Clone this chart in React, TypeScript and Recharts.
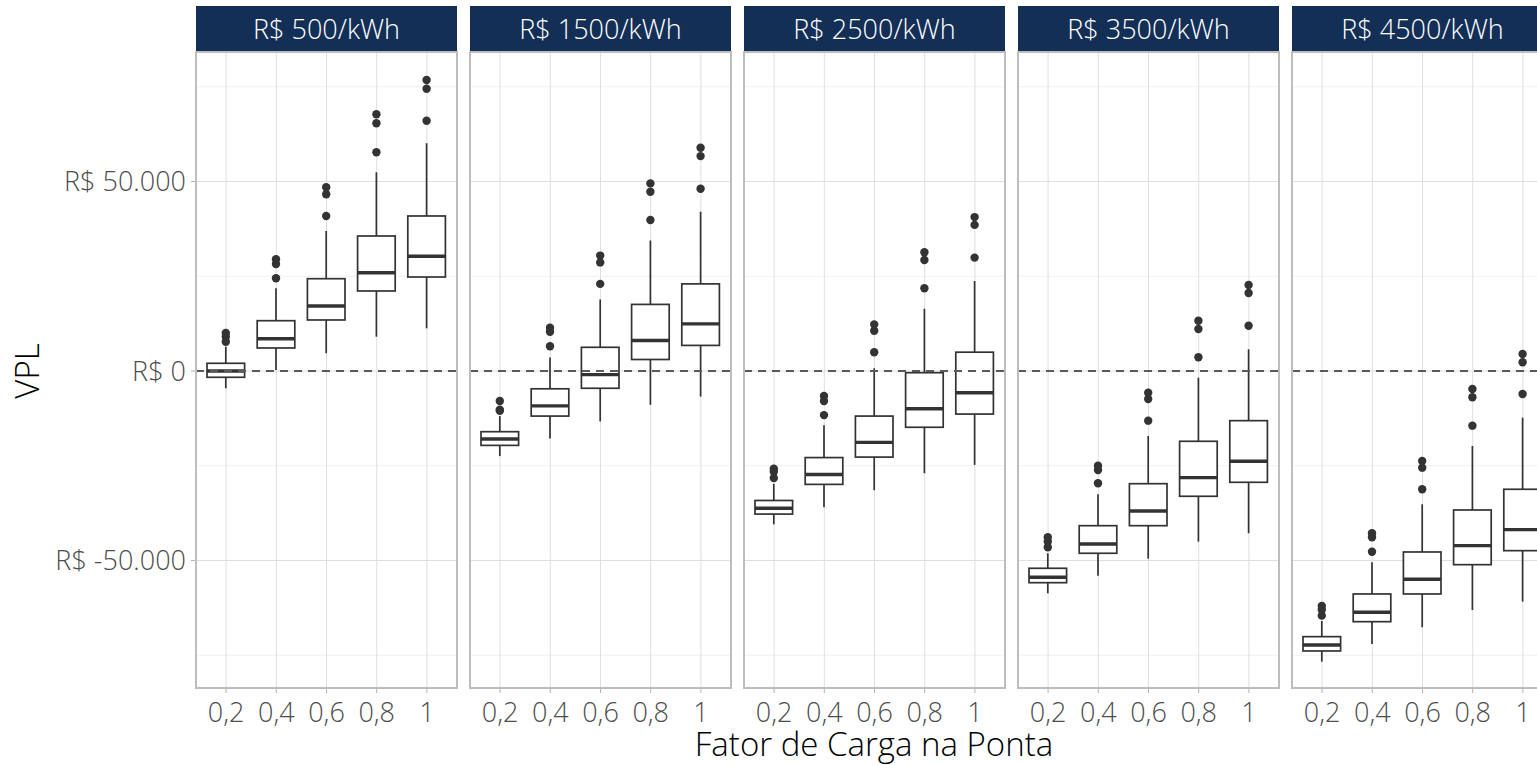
import React from 'react';
import { ComposedChart, Bar, XAxis, YAxis, CartesianGrid, ReferenceLine } from 'recharts';

// categorias e facetas
const factors = ['0,2', '0,4', '0,6', '0,8', '1'];
const costs = ['R$ 500/kWh', 'R$ 1500/kWh', 'R$ 2500/kWh', 'R$ 3500/kWh', 'R$ 4500/kWh'];

// estatísticas dos boxplots, uma linha por faceta (custo), uma coluna por fator
const whiskerLow = [
  [-4560, 260, 4670, 9050, 11260],
  [-22450, -17810, -13320, -8940, -6750],
  [-40470, -35960, -31450, -26970, -24780],
  [-58650, -54010, -49520, -45040, -42820],
  [-76700, -72030, -67630, -63060, -60870],
];
const q1 = [
  [-1660, 6070, 13460, 21110, 24800],
  [-19630, -11900, -4560, 3030, 6750],
  [-37760, -29920, -22720, -14850, -11370],
  [-55860, -48100, -40820, -33060, -29370],
  [-73880, -66150, -58840, -51110, -47410],
];
const median = [
  [0, 8520, 17150, 25940, 30260],
  [-17940, -9210, -950, 8050, 12430],
  [-36230, -27330, -18840, -9970, -5730],
  [-54430, -45650, -36940, -28150, -23830],
  [-72290, -63670, -54960, -46090, -41870],
];
const q3 = [
  [2030, 13270, 24350, 35620, 40900],
  [-16020, -4700, 6250, 17570, 22980],
  [-34170, -22850, -11900, -450, 4960],
  [-52060, -40820, -29740, -18550, -13110],
  [-70100, -58840, -47760, -36680, -31210],
];
const whiskerHigh = [
  [6410, 21820, 36940, 52420, 60070],
  [-11900, 3540, 18870, 34430, 42030],
  [-29790, -14350, 710, 16410, 23750],
  [-48100, -32530, -17150, -1770, 5730],
  [-65960, -50470, -35170, -19790, -12320],
];
const outliers = [
  [[7730, 9050, 10030], [24460, 28230, 29470], [40900, 46620, 48470], [57700, 65350, 67730], [66040, 74490, 76780]],
  [[-10500, -10240, -7920], [6520, 10370, 11400], [22980, 28650, 30450], [39840, 47310, 49500], [48070, 56700, 58890]],
  [[-28230, -26600, -25800], [-11640, -7920, -6620], [4960, 10630, 12300], [21820, 29290, 31350], [29920, 38550, 40610]],
  [[-46520, -45000, -43880], [-29630, -26120, -24990], [-13110, -7390, -5730], [3610, 11080, 13270], [11950, 20580, 22690]],
  [[-64560, -63000, -62000], [-47680, -43880, -42820], [-31210, -25510, -23750], [-14430, -6940, -4750], [-6070, 2300, 4490]],
];

const yTicks = [-50000, 0, 50000];
const yMinor = [-75000, -25000, 25000, 75000];

const PANEL_W = 261;
const PANEL_H = 636;
const GAP = 13;
const LEFT = 196;
const TOP = 52;
const STRIP_H = 46;
const FONT = '"Open Sans", "DejaVu Sans", sans-serif';
const INK = '#333333';

const fmt = (v: number) =>
  'R$ ' + (v < 0 ? '-' : '') + Math.abs(v).toString().replace(/\B(?=(\d{3})+(?!\d))/g, '.');

function BoxShape(props: any) {
  const { x, y, width, height, payload } = props;
  const top = Math.min(y, y + height);
  const bottom = Math.max(y, y + height);
  const { lo, hi } = payload;
  // mapeia valor -> pixel a partir da escala usada pela barra
  const py = (v: number) => bottom - ((v - lo) / (hi - lo)) * (bottom - top);
  const cx = x + width / 2;
  const yq1 = py(payload.q1);
  const yq3 = py(payload.q3);
  return (
    <g>
      <line x1={cx} x2={cx} y1={py(hi)} y2={yq3} stroke={INK} strokeWidth={1.7} />
      <line x1={cx} x2={cx} y1={yq1} y2={py(lo)} stroke={INK} strokeWidth={1.7} />
      <rect x={x} y={yq3} width={width} height={yq1 - yq3} fill="#fff" stroke={INK} strokeWidth={1.7} />
      <line x1={x} x2={x + width} y1={py(payload.med)} y2={py(payload.med)} stroke={INK} strokeWidth={3.4} />
      {payload.out.map((o: number, k: number) => (
        <circle key={k} cx={cx} cy={py(o)} r={4.2} fill={INK} />
      ))}
    </g>
  );
}

function Panel({ idx }: { idx: number }) {
  const data = factors.map((f, j) => ({
    f,
    lo: whiskerLow[idx][j],
    q1: q1[idx][j],
    med: median[idx][j],
    q3: q3[idx][j],
    hi: whiskerHigh[idx][j],
    out: outliers[idx][j],
  }));
  const first = idx === 0;
  const left = LEFT + idx * (PANEL_W + GAP);
  const chartLeft = first ? 0 : left;
  const chartW = first ? LEFT + PANEL_W : PANEL_W;
  const tickStyle = { fontSize: 27, fill: '#4d4d4d', fontFamily: FONT, fontWeight: 300 };
  return (
    <>
      <div
        style={{
          position: 'absolute',
          left,
          top: TOP - STRIP_H,
          width: PANEL_W,
          height: STRIP_H,
          background: '#132f56',
          color: '#fff',
          fontSize: 27,
          fontWeight: 300,
          lineHeight: `${STRIP_H}px`,
          textAlign: 'center',
          fontFamily: FONT,
        }}
      >
        {costs[idx]}
      </div>
      <div style={{ position: 'absolute', left: chartLeft, top: TOP }}>
        <ComposedChart width={chartW} height={PANEL_H + 50} data={data} margin={{ top: 0, right: 0, bottom: 0, left: 0 }}>
          <CartesianGrid horizontal={true} vertical={false} horizontalValues={yMinor} stroke="#f0f0f0" strokeWidth={1} />
          <CartesianGrid horizontal={true} vertical={true} horizontalValues={yTicks} stroke="#dfdfdf" strokeWidth={1} />
          <XAxis
            dataKey="f"
            type="category"
            padding={{ left: 5, right: 5 }}
            height={50}
            axisLine={false}
            tickSize={5}
            tickMargin={10}
            tickLine={{ stroke: '#b3b3b3' }}
            tick={tickStyle}
            interval={0}
          />
          <YAxis
            hide={!first}
            width={LEFT}
            domain={[-83650, 84170]}
            ticks={yTicks}
            tickFormatter={fmt}
            axisLine={false}
            tickSize={5}
            tickMargin={5}
            tickLine={{ stroke: '#b3b3b3' }}
            tick={tickStyle}
            allowDataOverflow
          />
          <Bar dataKey={(d: any) => [d.lo, d.hi]} barSize={37.6} shape={<BoxShape />} isAnimationActive={false} />
          <ReferenceLine y={0} stroke="#5a5a5a" strokeWidth={1.8} strokeDasharray="8 6" />
        </ComposedChart>
      </div>
      <div
        style={{
          position: 'absolute',
          left: left - 1,
          top: TOP - 1,
          width: PANEL_W + 2,
          height: PANEL_H + 2,
          border: '2px solid #bdbdbd',
          boxSizing: 'border-box',
          pointerEvents: 'none',
        }}
      />
    </>
  );
}

export default function App() {
  return (
    <div
      style={{
        position: 'absolute',
        left: 0,
        top: 0,
        width: 1537,
        height: 765,
        overflow: 'hidden',
        background: '#fff',
        fontFamily: FONT,
      }}
    >
      {costs.map((_, i) => (
        <Panel key={i} idx={i} />
      ))}
      <div
        style={{
          position: 'absolute',
          left: 26,
          top: 371,
          transform: 'translate(-50%, -50%) rotate(-90deg)',
          fontSize: 33,
          fontWeight: 300,
          lineHeight: '33px',
          color: '#000',
          whiteSpace: 'nowrap',
        }}
      >
        VPL
      </div>
      <div
        style={{
          position: 'absolute',
          left: 874,
          top: 732,
          height: 24,
          transform: 'translateX(-50%)',
          fontSize: 33,
          fontWeight: 300,
          lineHeight: '24px',
          color: '#000',
          whiteSpace: 'nowrap',
        }}
      >
        Fator de Carga na Ponta
      </div>
    </div>
  );
}
